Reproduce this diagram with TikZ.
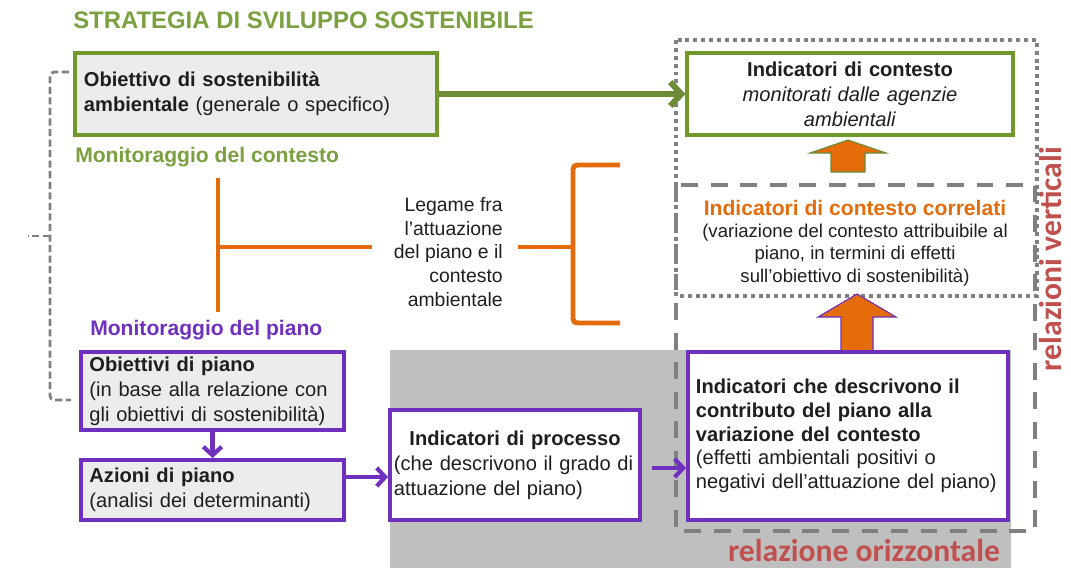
\documentclass[tikz,border=0pt]{standalone}
\usepackage{fontspec}
\setmainfont{Liberation Sans}
\newfontfamily\calfont{Carlito}
\usetikzlibrary{arrows.meta}

\definecolor{bgreen}{RGB}{112,152,42}
\definecolor{tgreen}{RGB}{122,160,64}
\definecolor{agreen}{RGB}{108,140,56}
\definecolor{ppurple}{RGB}{112,48,190}
\definecolor{oorange}{RGB}{228,108,10}
\definecolor{rred}{RGB}{192,80,77}
\definecolor{dgray}{RGB}{128,128,128}
\definecolor{bggray}{RGB}{191,191,191}
\definecolor{boxfill}{RGB}{236,236,236}
\definecolor{txt}{RGB}{30,30,30}

\newcommand{\boxfont}{\fontsize{14.3}{17.8}\selectfont}
\newcommand{\smallfont}{\fontsize{13.2}{15.8}\selectfont}
\newcommand{\labfont}{\fontsize{15}{18}\selectfont\bfseries}
\newcommand{\legfont}{\fontsize{13.8}{17}\selectfont}
\newcommand{\bigfont}{\calfont\fontsize{22.5}{26}\selectfont\bfseries}

\tikzset{
  greenbox/.style={draw=bgreen, line width=2.8pt, font=\boxfont, text=txt, inner xsep=0.22cm},
  purplebox/.style={draw=ppurple, line width=2.8pt, font=\boxfont, text=txt, inner xsep=0.2cm, align=left},
  garrow/.style={draw=agreen, line width=4.2pt, -{Straight Barb[length=8pt,width=17pt]}},
  parrow/.style={draw=ppurple, line width=3pt, -{Straight Barb[length=6pt,width=13pt]}},
  oline/.style={draw=oorange, line width=3.5pt},
  dotbox/.style={draw=dgray, line width=2.8pt, dash pattern=on 2.8pt off 2.8pt},
  dashbox/.style={draw=dgray, line width=3.5pt, dash pattern=on 12pt off 9pt},
  bracket/.style={draw=dgray, line width=2pt, dash pattern=on 5pt off 2.5pt, rounded corners=3pt},
  blockarrow/.style={fill=oorange, line width=0.8pt},
  relation/.style={font=\bigfont, text=rred, anchor=base, text depth=0pt}
}

\begin{document}
\begin{tikzpicture}[x=0.025cm, y=-0.025cm, every node/.style={inner sep=0pt}]
  \useasboundingbox (0,0) rectangle (1071,568);
  % grey field of the horizontal relation
  \fill[bggray] (390,350) rectangle (1011,568);
  % frames of the vertical relations
  \draw[dotbox] (676,40) rectangle (1037,296);
  \draw[dashbox] (676,185) rectangle (1035,531);

  % titles
  \node[font=\fontsize{17}{20}\selectfont\bfseries, text=tgreen, anchor=west] (title) at (73,20) {STRATEGIA DI SVILUPPO SOSTENIBILE};
  \node[font=\labfont, text=tgreen, anchor=west] (moncont) at (75,157) {Monitoraggio del contesto};
  \node[font=\labfont, text=ppurple, anchor=west] (monpiano) at (90,330) {Monitoraggio del piano};

  % context boxes
  \node[greenbox, fill=boxfill, minimum width=9.05cm, minimum height=2.05cm, text width=8.6cm, align=left] (objamb) at (256,94)
    {\textbf{Obiettivo di sostenibilità}\\\textbf{ambientale} (generale o specifico)};
  \node[greenbox, fill=white, minimum width=8.125cm, minimum height=2.05cm, text width=7.6cm, align=center] (indcont) at (850,94)
    {\textbf{Indicatori di contesto}\\\textit{monitorati dalle agenzie}\\\textit{ambientali}};
  \draw[garrow] (objamb) -- (indcont);

  % correlated context indicators
  \node[font=\smallfont, text=txt, align=center] (correl) at (855,243)
    {{\labfont\color{oorange}Indicatori di contesto correlati}\\(variazione del contesto attribuibile al\\piano, in termini di effetti\\sull'obiettivo di sostenibilità)};
  \filldraw[blockarrow, draw=agreen] (848,140) -- (886,153) -- (865,153) -- (865,172) -- (831,172) -- (831,153) -- (810,153) -- cycle;
  \filldraw[blockarrow, draw=ppurple] (857,294) -- (896,317) -- (873,317) -- (873,351) -- (841,351) -- (841,317) -- (818,317) -- cycle;

  % plan boxes
  \node[purplebox, fill=boxfill, minimum width=6.525cm, minimum height=1.95cm, text width=6.15cm] (obpiano) at (212.5,391)
    {\textbf{Obiettivi di piano}\\(in base alla relazione con\\gli obiettivi di sostenibilità)};
  \node[purplebox, fill=boxfill, minimum width=6.525cm, minimum height=1.5cm, text width=6.15cm] (azioni) at (212.5,490)
    {\textbf{Azioni di piano}\\(analisi dei determinanti)};
  \node[purplebox, fill=white, minimum width=6.25cm, minimum height=2.75cm, inner xsep=0.1cm, text width=6.05cm] (processo) at (515,465)
    {\makebox[\linewidth]{\textbf{Indicatori di processo}}\\(che descrivono il grado di\\attuazione del piano)};
  \node[purplebox, fill=white, minimum width=8cm, minimum height=4.2cm, inner xsep=0.2cm, text width=7.6cm,
        font=\fontsize{14.3}{16.8}\selectfont] (contrib) at (848,436)
    {\textbf{Indicatori che descrivono il}\\\textbf{contributo del piano alla}\\\textbf{variazione del contesto}\\(effetti ambientali positivi o\\negativi dell'attuazione del piano)};
  \draw[parrow] (obpiano) -- (azioni);
  \draw[parrow] (azioni.east |- 0,477) -- (processo.west |- 0,477);
  \draw[parrow, shorten <=7pt] (processo.east |- 0,468) -- (contrib.west |- 0,468);

  % link between plan and context
  \node[font=\legfont, text=txt, align=right, anchor=east] (legame) at (503,252)
    {Legame fra\\l'attuazione\\del piano e il\\contesto\\ambientale};
  \coordinate (tTop) at (218,178);
  \coordinate (tBot) at (218,312);
  \coordinate (tMid) at (218,247);
  \coordinate (bkMid) at (573,247);
  \draw[oline] (tTop) -- (tBot);
  \draw[oline] (tMid) -- ([xshift=-15pt]legame.west |- tMid);
  \draw[oline] ([xshift=11pt]legame.east |- tMid) -- (bkMid);
  \draw[oline, rounded corners=3pt] (620,165) -- (573,165) -- (573,323) -- (620,323);

  % dashed bracket strategy
  \draw[bracket] ([xshift=-3pt]objamb.west |- 0,72) -- (50,72) -- (50,400) -- ([xshift=-6pt]obpiano.west |- 0,400);
  \draw[bracket] (50,236) -- (28,236);

  % relation labels
  \node[relation] (relorizz) at (864,561) {relazione orizzontale};
  \node[relation, rotate=90] (relvert) at (1061,259) {relazioni verticali};
\end{tikzpicture}
\end{document}
